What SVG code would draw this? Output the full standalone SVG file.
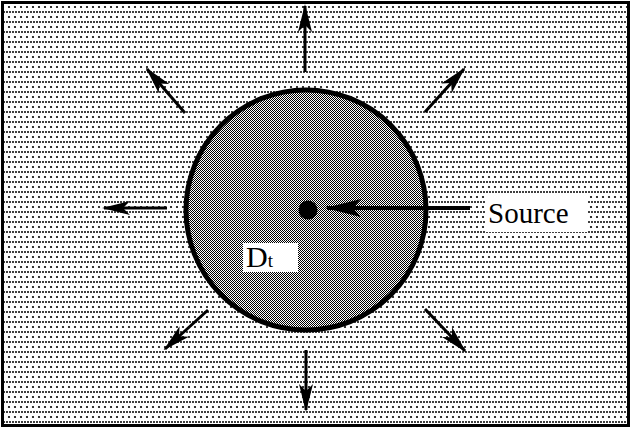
<svg xmlns="http://www.w3.org/2000/svg" width="631" height="428" viewBox="0 0 631 428">
<style>
.arr{stroke:#000;stroke-width:3;fill:none;marker-end:url(#head)}
.lbl{font-family:"Liberation Serif","Times New Roman",serif;fill:#000}
</style>
<defs>
<pattern id="dots" x="0" y="0" width="6" height="10" patternUnits="userSpaceOnUse">
<rect width="6" height="10" fill="#fff"/>
<circle cx="1" cy="2" r="1" fill="#000"/>
<circle cx="4" cy="2" r="1" fill="#000"/>
<circle cx="3" cy="7" r="1.1" fill="#000"/>
</pattern>
<pattern id="checker" x="0" y="0" width="2" height="2" patternUnits="userSpaceOnUse">
<rect width="2" height="2" fill="#fff"/>
<rect x="0" y="0" width="1" height="1" fill="#000"/>
<rect x="1" y="1" width="1" height="1" fill="#000"/>
</pattern>
<marker id="head" viewBox="0 0 28 16" refX="26" refY="8" markerWidth="28" markerHeight="16" markerUnits="userSpaceOnUse" orient="auto">
<path d="M0,1 L28,8 L0,15 L7,8 Z" fill="#000"/>
</marker>
<marker id="bighead" viewBox="0 0 36 18" refX="34" refY="9" markerWidth="36" markerHeight="18" markerUnits="userSpaceOnUse" orient="auto">
<path d="M0,0 L36,9 L0,18 L8,9 Z" fill="#000"/>
</marker>
</defs>
<rect x="0" y="0" width="631" height="428" fill="#fff"/>
<rect id="field" x="2.5" y="2.5" width="626" height="423" fill="url(#dots)" stroke="#000" stroke-width="3"/>
<g id="region">
<circle cx="306" cy="210" r="120" fill="url(#checker)" stroke="#000" stroke-width="5"/>
</g>
<g id="source-dot">
<circle cx="308" cy="210" r="9.5" fill="#000"/>
</g>
<g id="connectors">
<line class="arr" x1="305" y1="72" x2="305" y2="6"/>
<line class="arr" x1="185" y1="113" x2="147" y2="69"/>
<line class="arr" x1="425" y1="112" x2="464" y2="69"/>
<line class="arr" x1="167" y1="208" x2="104" y2="208"/>
<line class="arr" x1="208" y1="310" x2="165" y2="349"/>
<line class="arr" x1="306" y1="350" x2="306" y2="410"/>
<line class="arr" x1="425" y1="309" x2="465" y2="351"/>
<line x1="470" y1="208" x2="327" y2="208" stroke="#000" stroke-width="4" marker-end="url(#bighead)"/>
</g>
<g id="source-label">
<rect x="485" y="195" width="102" height="37" fill="#fff"/>
<text class="lbl" x="488" y="223" font-size="29">Source</text>
</g>
<g id="dt-label">
<rect x="243" y="243" width="55" height="29" fill="#fff"/>
<text class="lbl" x="246" y="267" font-size="30">D<tspan font-size="19">t</tspan></text>
</g>
</svg>
